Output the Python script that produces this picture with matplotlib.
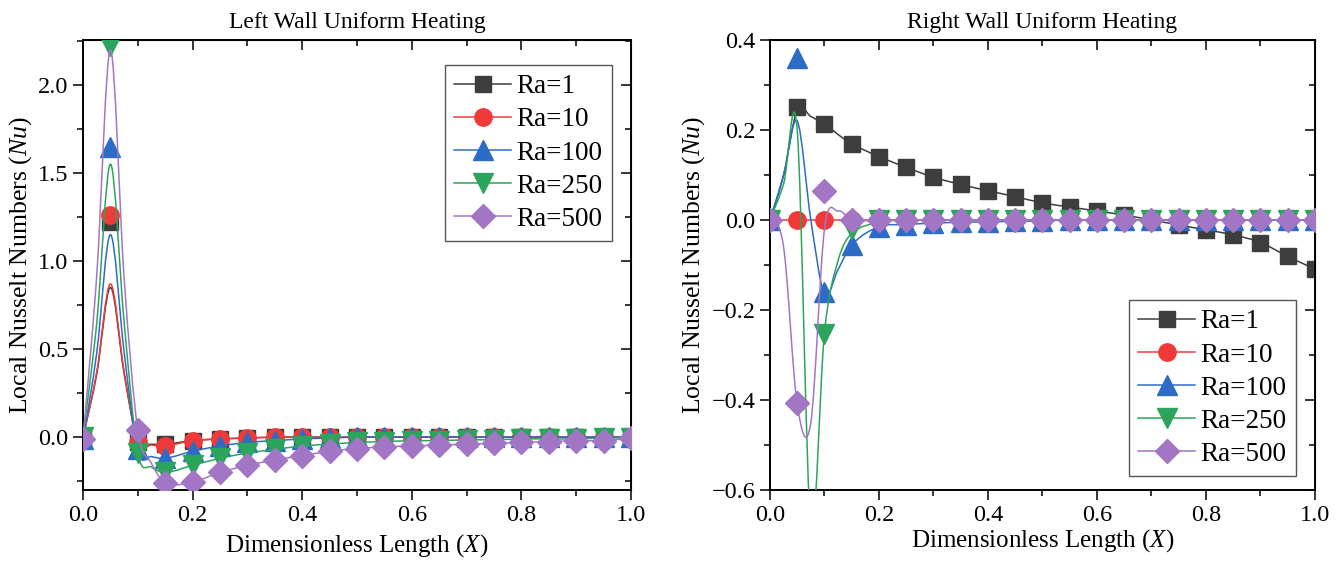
import numpy as np
import matplotlib
matplotlib.use("Agg")
import matplotlib.pyplot as plt
from matplotlib.path import Path
from matplotlib.patches import PathPatch
from matplotlib.lines import Line2D
from matplotlib.ticker import MultipleLocator

plt.rcParams['font.family'] = ['Liberation Serif', 'DejaVu Serif']
plt.rcParams['mathtext.fontset'] = 'custom'
plt.rcParams['mathtext.rm'] = 'Liberation Serif'
plt.rcParams['mathtext.it'] = 'Liberation Serif:italic'

# marker positions (every 0.05)
x_pts = [0.0, 0.05, 0.1, 0.15, 0.2, 0.25, 0.3, 0.35, 0.4, 0.45, 0.5,
         0.55, 0.6, 0.65, 0.7, 0.75, 0.8, 0.85, 0.9, 0.95, 1.0]
# curve positions (denser near the peak)
x_line = [0.0, 0.025, 0.05, 0.075, 0.1, 0.125, 0.15, 0.2, 0.25, 0.3, 0.35,
          0.4, 0.45, 0.5, 0.55, 0.6, 0.65, 0.7, 0.75, 0.8, 0.85, 0.9, 0.95, 1.0]

labels = ['Ra=1', 'Ra=10', 'Ra=100', 'Ra=250', 'Ra=500']
colors = ['#3d3d3d', '#f03a3a', '#2d6cc6', '#2ba55b', '#a276c4']
markers = ['s', 'o', '^', 'v', 'D']
msizes = [11, 12.5, 14, 14, 12]

# ---- left wall, markers
left_ra1 = [0, 1.22, -0.03, -0.04, -0.02, -0.01, -0.005, 0, 0, 0, 0, 0, 0, 0, 0, 0, 0, 0, 0, 0, 0]
left_ra10 = [0, 1.26, -0.03, -0.05, -0.02, -0.01, -0.005, 0, 0, 0, 0, 0, 0, 0, 0, 0, 0, 0, 0, 0, 0]
left_ra100 = [-0.01, 1.65, -0.07, -0.12, -0.08, -0.05, -0.03, -0.02, -0.01, -0.005, 0,
              0, 0, 0, 0, 0, 0, 0, 0, 0, 0]
left_ra250 = [0, 2.22, -0.09, -0.20, -0.16, -0.12, -0.09, -0.07, -0.05, -0.04, -0.03,
              -0.025, -0.02, -0.02, -0.015, -0.015, -0.01, -0.01, -0.01, -0.005, -0.005]
left_ra500 = [-0.01, 2.6, 0.04, -0.26, -0.255, -0.20, -0.16, -0.13, -0.105, -0.08, -0.065,
              -0.055, -0.05, -0.045, -0.04, -0.035, -0.03, -0.025, -0.02, -0.02, -0.005]

# ---- left wall, curves
left_ra1_line = [0, 0.36, 0.85, 0.36, -0.03, -0.04, -0.04, -0.02, -0.01, -0.005, 0,
                 0, 0, 0, 0, 0, 0, 0, 0, 0, 0, 0, 0, 0]
left_ra10_line = [0, 0.37, 0.87, 0.37, -0.03, -0.045, -0.05, -0.02, -0.01, -0.005, 0,
                  0, 0, 0, 0, 0, 0, 0, 0, 0, 0, 0, 0, 0]
left_ra100_line = [-0.02, 0.48, 1.15, 0.48, -0.08, -0.11, -0.12, -0.08, -0.05, -0.03, -0.02,
                   -0.01, -0.005, 0, 0, 0, 0, 0, 0, 0, 0, 0, 0, 0]
left_ra250_line = [0, 0.65, 1.55, 0.65, -0.09, -0.17, -0.20, -0.16, -0.12, -0.09, -0.07,
                   -0.05, -0.04, -0.03, -0.025, -0.02, -0.02, -0.015, -0.015, -0.01, -0.01,
                   -0.01, -0.005, -0.005]
left_ra500_line = [-0.01, 0.92, 2.2, 0.9, 0.04, -0.15, -0.26, -0.255, -0.20, -0.16, -0.13,
                   -0.105, -0.08, -0.065, -0.055, -0.05, -0.045, -0.04, -0.035, -0.03,
                   -0.025, -0.02, -0.02, -0.005]

# ---- right wall, markers
right_ra1 = [0, 0.251, 0.213, 0.169, 0.141, 0.117, 0.095, 0.079, 0.065, 0.052, 0.038,
             0.029, 0.02, 0.011, 0.0, -0.011, -0.022, -0.033, -0.05, -0.081, -0.109]
right_ra10 = [0] * 21
right_ra100 = [0, 0.36, -0.16, -0.055, -0.015, -0.01, -0.007, -0.005, -0.004, -0.003, -0.002,
               0, 0, 0, 0, 0, 0, 0, 0, 0, 0]
right_ra250 = [0, 0.45, -0.253, -0.02, 0, 0, 0, 0, 0, 0, 0, 0, 0, 0, 0, 0, 0, 0, 0, 0, 0]
right_ra500 = [0, -0.407, 0.064, 0, 0, 0, 0, 0, 0, 0, 0, 0, 0, 0, 0, 0, 0, 0, 0, 0, 0]

# ---- right wall, curves
right_ra1_line = [0, 0.1, 0.245, 0.23, 0.213, 0.19, 0.169, 0.141, 0.117, 0.095, 0.079,
                  0.065, 0.052, 0.038, 0.029, 0.02, 0.011, 0.0, -0.011, -0.022, -0.033,
                  -0.05, -0.081, -0.109]
right_ra10_line = [0] * 24
right_ra100_line = [0, 0.1, 0.22, 0.0, -0.165, -0.11, -0.055, -0.015, -0.01, -0.007, -0.005,
                    -0.004, -0.003, -0.002, 0, 0, 0, 0, 0, 0, 0, 0, 0, 0]
right_ra250_line = [0, 0.08, 0.20, -0.68, -0.25, -0.09, -0.03, -0.005, 0, 0, 0,
                    0, 0, 0, 0, 0, 0, 0, 0, 0, 0, 0, 0, 0]
right_ra500_line = [0, -0.06, -0.41, -0.45, -0.02, 0.02, 0, 0, 0, 0, 0,
                    0, 0, 0, 0, 0, 0, 0, 0, 0, 0, 0, 0, 0]

left_pts = [left_ra1, left_ra10, left_ra100, left_ra250, left_ra500]
left_lines = [left_ra1_line, left_ra10_line, left_ra100_line, left_ra250_line, left_ra500_line]
right_pts = [right_ra1, right_ra10, right_ra100, right_ra250, right_ra500]
right_lines = [right_ra1_line, right_ra10_line, right_ra100_line, right_ra250_line, right_ra500_line]


def smooth_path(x, y):
    # cubic hermite through the points, drawn as bezier segments
    x = np.asarray(x, float)
    y = np.asarray(y, float)
    n = len(x)
    m = np.zeros(n)
    m[0] = (y[1] - y[0]) / (x[1] - x[0])
    m[-1] = (y[-1] - y[-2]) / (x[-1] - x[-2])
    for i in range(1, n - 1):
        m[i] = (y[i + 1] - y[i - 1]) / (x[i + 1] - x[i - 1])
    verts = [(x[0], y[0])]
    codes = [Path.MOVETO]
    for i in range(n - 1):
        h = x[i + 1] - x[i]
        verts += [(x[i] + h / 3, y[i] + m[i] * h / 3),
                  (x[i + 1] - h / 3, y[i + 1] - m[i + 1] * h / 3),
                  (x[i + 1], y[i + 1])]
        codes += [Path.CURVE4] * 3
    return Path(verts, codes)


def draw(ax, pts, lines):
    for k in range(5):
        ax.add_patch(PathPatch(smooth_path(x_line, lines[k]), fill=False,
                               edgecolor=colors[k], lw=1.1, zorder=2 + k))
        ax.plot(x_pts, pts[k], linestyle='none', marker=markers[k], ms=msizes[k],
                color=colors[k], mec=colors[k], zorder=2.5 + k)


def style(ax, xpad):
    ax.set_xlim(0, 1.0)
    ax.xaxis.set_major_locator(MultipleLocator(0.2))
    ax.xaxis.set_minor_locator(MultipleLocator(0.1))
    ax.tick_params(which='both', direction='out', labelsize=17.5, width=1.1)
    ax.tick_params(which='major', length=7)
    ax.tick_params(which='minor', length=4)
    for sp in ax.spines.values():
        sp.set_linewidth(1.4)
    top = ax.secondary_xaxis('top')
    top.xaxis.set_major_locator(MultipleLocator(0.2))
    top.xaxis.set_minor_locator(MultipleLocator(0.1))
    top.tick_params(which='both', direction='in', labeltop=False, width=1.1)
    top.tick_params(which='major', length=7)
    top.tick_params(which='minor', length=4)
    right = ax.secondary_yaxis('right')
    right.yaxis.set_major_locator(ax.yaxis.get_major_locator())
    right.yaxis.set_minor_locator(ax.yaxis.get_minor_locator())
    right.tick_params(which='both', direction='in', labelright=False, width=1.1)
    right.tick_params(which='major', length=7)
    right.tick_params(which='minor', length=4)
    ax.set_xlabel(r'Dimensionless Length $\mathit{(X)}$', fontsize=18, labelpad=xpad)
    ax.set_ylabel(r'Local Nusselt Numbers $\mathit{(Nu)}$', fontsize=18.5, labelpad=3)


handles = [Line2D([], [], color=colors[k], lw=1.1, marker=markers[k], ms=msizes[k],
                  mec=colors[k]) for k in range(5)]

fig = plt.figure(figsize=(13.44, 5.66), dpi=100)
ax1 = fig.add_axes([0.0618, 0.1343, 0.4077, 0.795])
ax2 = fig.add_axes([0.5729, 0.1343, 0.4055, 0.795])

draw(ax1, left_pts, left_lines)
ax1.set_ylim(-0.3, 2.255)
ax1.yaxis.set_major_locator(MultipleLocator(0.5))
ax1.yaxis.set_minor_locator(MultipleLocator(0.25))
style(ax1, 5)
ax1.set_title('Left Wall Uniform Heating', fontsize=17, pad=9)
leg1 = ax1.legend(handles, labels, loc='upper right', bbox_to_anchor=(0.99, 0.975),
                  fontsize=19.5, handlelength=2.1, labelspacing=0.3, borderpad=0.35,
                  handletextpad=0.2, fancybox=False, framealpha=1, edgecolor='#555555')
leg1.get_frame().set_linewidth(1.0)

draw(ax2, right_pts, right_lines)
ax2.set_ylim(-0.6, 0.4)
ax2.yaxis.set_major_locator(MultipleLocator(0.2))
ax2.yaxis.set_minor_locator(MultipleLocator(0.1))
style(ax2, 1)
ax2.set_title('Right Wall Uniform Heating', fontsize=17, pad=9)
leg2 = ax2.legend(handles, labels, loc='lower right', bbox_to_anchor=(0.99, 0.0),
                  fontsize=19.5, handlelength=2.1, labelspacing=0.3, borderpad=0.35,
                  handletextpad=0.2, fancybox=False, framealpha=1, edgecolor='#555555')
leg2.get_frame().set_linewidth(1.0)

fig.savefig('out.png', dpi=100)
